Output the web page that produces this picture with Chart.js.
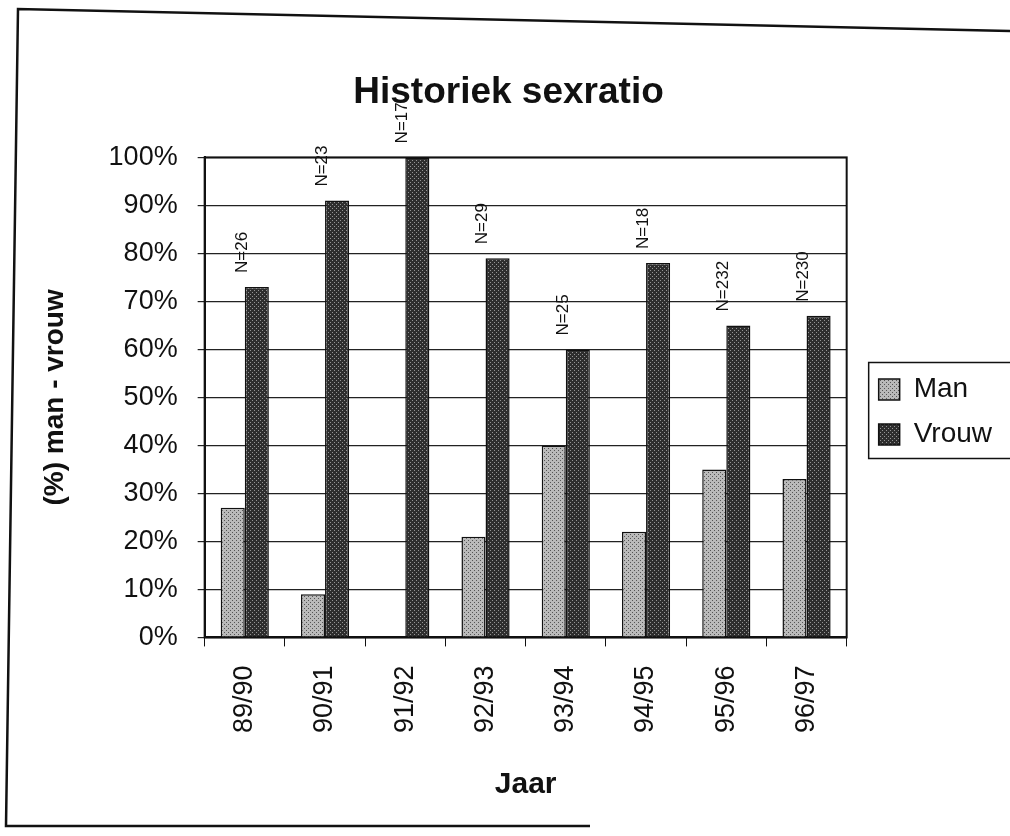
<!DOCTYPE html>
<html>
<head>
<meta charset="utf-8">
<script src="https://cdn.jsdelivr.net/npm/chart.js@4.4.0/dist/chart.umd.min.js"></script>
<style>
  html, body { margin: 0; padding: 0; background: #fff; }
</style>
</head>
<body>
<canvas id="chart" width="1010" height="836"></canvas>
<script>
// data
const jaren = ['89/90', '90/91', '91/92', '92/93', '93/94', '94/95', '95/96', '96/97'];
const man = [27, 9, 0, 21, 40, 22, 35, 33];
const vrouw = [73, 91, 100, 79, 60, 78, 65, 67];
const aantallen = ['N=26', 'N=23', 'N=17', 'N=29', 'N=25', 'N=18', 'N=232', 'N=230'];
const yTicks = [0, 10, 20, 30, 40, 50, 60, 70, 80, 90, 100];

const FONT = "'Liberation Sans', Arial, sans-serif";

// dotted fill like the old printed chart
function maakPatroon(achter, stip) {
  const c = document.createElement('canvas');
  c.width = 4; c.height = 4;
  const g = c.getContext('2d');
  g.fillStyle = achter;
  g.fillRect(0, 0, 4, 4);
  g.fillStyle = stip;
  g.fillRect(0, 0, 1, 1);
  g.fillRect(2, 2, 1, 1);
  return g.createPattern(c, 'repeat');
}
const patroonMan = maakPatroon('#bababa', '#555555');
const patroonVrouw = maakPatroon('#2e2e2e', '#959595');

// N labels above the Vrouw bars
const nLabels = {
  id: 'nLabels',
  afterDatasetsDraw(chart) {
    const ctx = chart.ctx;
    const meta = chart.getDatasetMeta(1);
    ctx.save();
    ctx.fillStyle = '#111';
    ctx.font = '17px ' + FONT;
    ctx.textAlign = 'left';
    ctx.textBaseline = 'middle';
    meta.data.forEach((bar, i) => {
      ctx.save();
      ctx.translate(bar.x - 15, bar.y - 14);
      ctx.rotate(-Math.PI / 2);
      ctx.fillText(aantallen[i], 0, 0);
      ctx.restore();
    });
    ctx.restore();
  }
};

// move legend a bit to the right and up, like the original
const legendSchuif = {
  id: 'legendSchuif',
  afterLayout(chart) {
    const l = chart.legend;
    l.left += 15; l.right += 15;
    l.top -= 25; l.bottom -= 25;
  }
};

// outer frame, plot box and legend box
const kaders = {
  id: 'kaders',
  beforeDraw(chart) {
    const ctx = chart.ctx;
    ctx.save();
    ctx.strokeStyle = '#111';
    ctx.lineWidth = 2.5;
    ctx.beginPath();
    ctx.moveTo(1010, 31);
    ctx.lineTo(18, 9);
    ctx.lineTo(6, 826);
    ctx.lineTo(590, 826);
    ctx.stroke();
    ctx.restore();
  },
  afterDraw(chart) {
    const ctx = chart.ctx;
    const a = chart.chartArea;
    ctx.save();
    ctx.strokeStyle = '#111';
    ctx.lineWidth = 2;
    ctx.strokeRect(a.left, a.top, a.right - a.left, a.bottom - a.top);
    const hb = chart.legend.legendHitBoxes;
    if (hb && hb.length) {
      const top = hb[0].top - 13;
      const last = hb[hb.length - 1];
      const bottom = last.top + last.height + 10;
      const left = hb[0].left - 10;
      ctx.lineWidth = 1.5;
      ctx.strokeRect(left, top, 1020 - left, bottom - top);
    }
    ctx.restore();
  }
};

new Chart(document.getElementById('chart').getContext('2d'), {
  type: 'bar',
  data: {
    labels: jaren,
    datasets: [
      {
        label: 'Man',
        data: man,
        backgroundColor: patroonMan,
        borderColor: '#111',
        borderWidth: 1.5,
        categoryPercentage: 0.6,
        barPercentage: 1.0
      },
      {
        label: 'Vrouw',
        data: vrouw,
        backgroundColor: patroonVrouw,
        borderColor: '#111',
        borderWidth: 1.5,
        categoryPercentage: 0.6,
        barPercentage: 1.0
      }
    ]
  },
  options: {
    responsive: false,
    animation: false,
    layout: { padding: { top: 71, left: 30, right: 23, bottom: 33 } },
    plugins: {
      title: {
        display: true,
        text: 'Historiek sexratio',
        color: '#111',
        font: { family: FONT, size: 37, weight: 'bold' },
        padding: { top: 0, bottom: 42 }
      },
      legend: {
        position: 'right',
        align: 'center',
        labels: {
          color: '#111',
          font: { family: FONT, size: 28 },
          boxWidth: 21,
          boxHeight: 21,
          padding: 17
        }
      },
      tooltip: { enabled: false }
    },
    scales: {
      x: {
        grid: { display: true, drawOnChartArea: false, drawTicks: true, tickLength: 9, color: '#111' },
        border: { color: '#111', width: 2 },
        ticks: {
          color: '#111',
          font: { family: FONT, size: 27 },
          minRotation: 90,
          maxRotation: 90,
          padding: 19
        },
        title: {
          display: true,
          text: 'Jaar',
          color: '#111',
          font: { family: FONT, size: 30, weight: 'bold' },
          padding: { top: 15, bottom: 0 }
        }
      },
      y: {
        min: 0,
        max: 100,
        afterBuildTicks(axis) {
          axis.ticks = yTicks.map(v => ({ value: v }));
        },
        grid: { color: '#222', lineWidth: 1.2, tickLength: 7 },
        border: { color: '#111', width: 2 },
        ticks: {
          color: '#111',
          font: { family: FONT, size: 27 },
          padding: 20,
          callback: v => v + '%'
        },
        title: {
          display: true,
          text: '(%) man - vrouw',
          color: '#111',
          font: { family: FONT, size: 28, weight: 'bold' },
          padding: { top: 8, bottom: 17 }
        }
      }
    }
  },
  plugins: [nLabels, legendSchuif, kaders]
});
</script>
</body>
</html>
